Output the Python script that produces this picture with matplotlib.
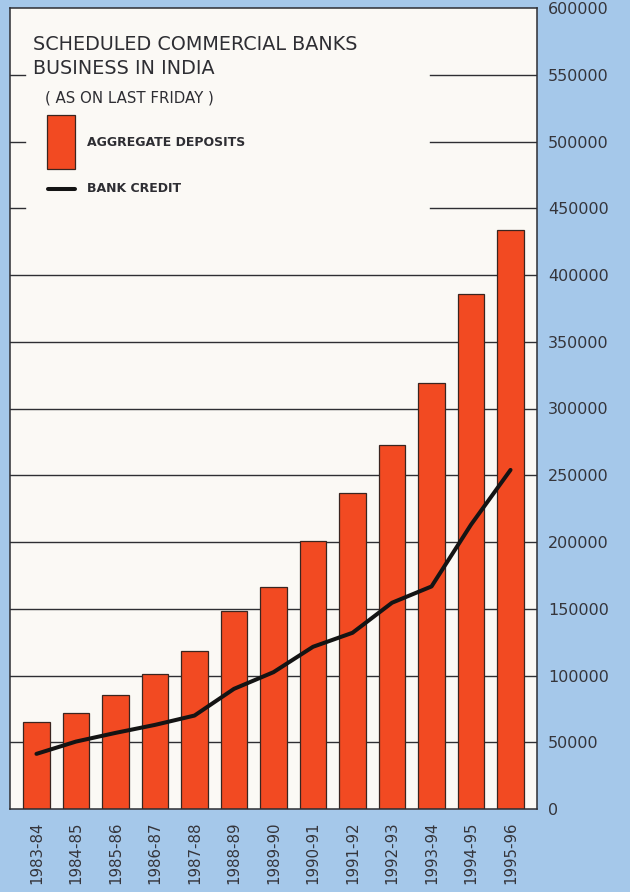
import numpy as np
import matplotlib.pyplot as plt
from matplotlib.patches import Rectangle
from matplotlib.lines import Line2D

# scheduled commercial banks, values as on last friday
years = ['1983-84', '1984-85', '1985-86', '1986-87', '1987-88', '1988-89', '1989-90',
         '1990-91', '1991-92', '1992-93', '1993-94', '1994-95', '1995-96']
deposits = [65000, 72000, 85300, 101000, 118500, 148500, 166500,
            201000, 237000, 273000, 318800, 386000, 434000]
credit = [41300, 50500, 57000, 63000, 70000, 90000, 102500,
          121500, 132000, 154500, 166700, 213000, 254000]
yticks = np.arange(0, 600001, 50000)

blue = '#a5c8ea'
red = '#f24a22'
paper = '#fbf9f5'
ink = '#2e2e33'

W, H = 630, 892
fig = plt.figure(figsize=(W / 100, H / 100), dpi=100)
fig.patch.set_facecolor(blue)

def fx(px):
    return px / W

def fy(py):
    return 1 - py / H

ax = fig.add_axes([fx(10), fy(809), (537 - 10) / W, (809 - 8) / H])
ax.set_facecolor(paper)

x = np.arange(len(years))
ax.set_xlim(-0.67, len(years) - 1 + 0.67)
ax.set_ylim(0, 600000)

# grid: full lines below the legend block, short stubs + right-hand pieces above it
for v in yticks[1:9]:
    ax.axhline(v, color=ink, lw=1.0, zorder=1)
for v in yticks[9:12]:
    ax.axhline(v, xmin=0, xmax=15 / 527, color=ink, lw=1.0, zorder=1)
    ax.axhline(v, xmin=(430 - 10) / 527, xmax=1, color=ink, lw=1.0, zorder=1)

ax.bar(x, deposits, width=0.68, color=red, edgecolor='#3a2520', linewidth=0.9, zorder=2)
ax.plot(x, credit, color='#141414', lw=2.9, solid_capstyle='round',
        solid_joinstyle='round', zorder=3)

for s in ax.spines.values():
    s.set_color(ink)
    s.set_linewidth(1.1)

ax.yaxis.tick_right()
ax.set_yticks(yticks)
ax.set_yticklabels([str(v) for v in yticks])
ax.tick_params(axis='y', length=0, pad=8, labelsize=11.5, labelcolor='#35353b')

ax.set_xticks(x)
ax.set_xticklabels(years, rotation=90, va='top')
ax.tick_params(axis='x', length=0, pad=9, labelsize=10.8, labelcolor='#35353b')

# title block and legend drawn inside the white panel
fig.text(fx(33), fy(45), 'SCHEDULED COMMERCIAL BANKS', fontsize=13.8, color=ink,
         va='center', ha='left')
fig.text(fx(33), fy(69), 'BUSINESS IN INDIA', fontsize=13.8, color=ink,
         va='center', ha='left')
fig.text(fx(45), fy(98), '( AS ON LAST FRIDAY )', fontsize=10.8, color=ink,
         va='center', ha='left')

fig.patches.append(Rectangle((fx(47), fy(169)), (75 - 47) / W, (169 - 115) / H,
                             transform=fig.transFigure, facecolor=red,
                             edgecolor='#3a2520', lw=0.9))
fig.text(fx(87), fy(143), 'AGGREGATE DEPOSITS', fontsize=9, fontweight='bold',
         color=ink, va='center', ha='left')

fig.lines.append(Line2D([fx(48), fx(75)], [fy(189), fy(189)], transform=fig.transFigure,
                        color='#141414', lw=2.9, solid_capstyle='round'))
fig.text(fx(87), fy(189), 'BANK CREDIT', fontsize=9, fontweight='bold',
         color=ink, va='center', ha='left')

fig.savefig('out.png', dpi=100, facecolor=blue)
